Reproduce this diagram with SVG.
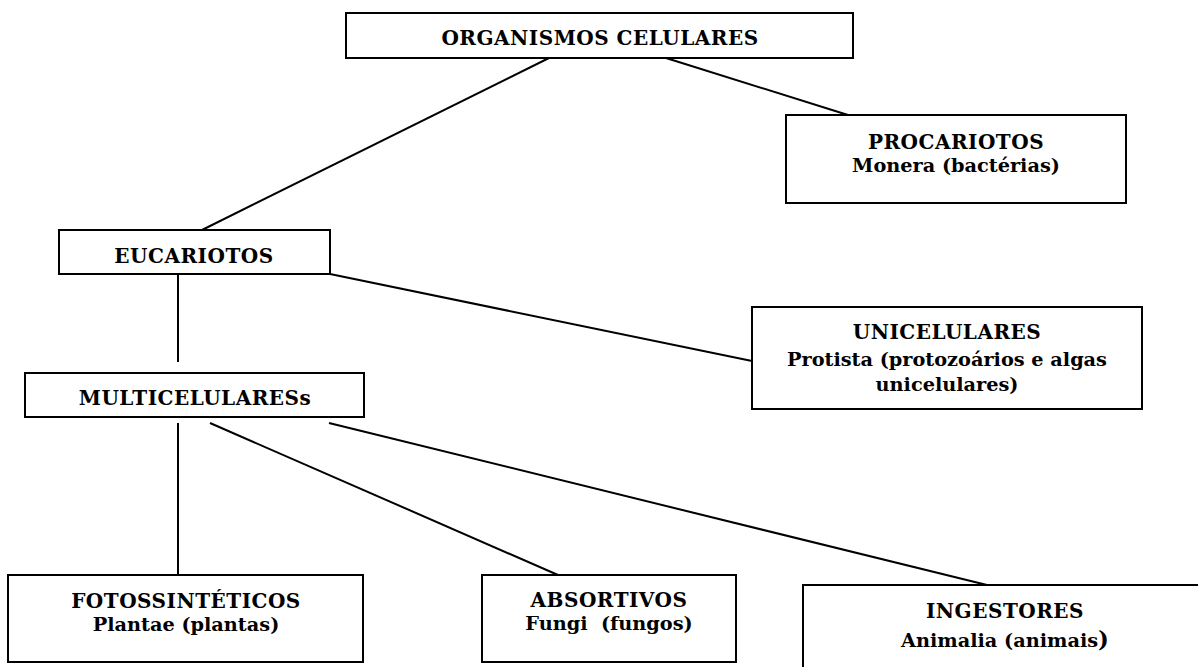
<svg xmlns="http://www.w3.org/2000/svg" width="1198" height="667" viewBox="0 0 1198 667">
<style>
.box{fill:#fff;stroke:#000;stroke-width:2}
.ln{stroke:#000;stroke-width:2;fill:none}
text{font-family:"DejaVu Serif","Liberation Serif",serif;font-weight:bold;font-size:19.3px;fill:#000;text-anchor:middle;white-space:pre}
text.h{font-size:20px;letter-spacing:0.5px}
</style>
<rect width="1198" height="667" fill="#fff"/>
<g id="connectors">
<line class="ln" x1="549" y1="58" x2="202" y2="230"/>
<line class="ln" x1="666" y1="58" x2="848" y2="115"/>
<line class="ln" x1="178" y1="274" x2="178" y2="362"/>
<line class="ln" x1="330" y1="274" x2="752" y2="361"/>
<line class="ln" x1="178" y1="423" x2="178" y2="575"/>
<line class="ln" x1="210" y1="423" x2="558" y2="575"/>
<line class="ln" x1="329" y1="423" x2="987" y2="585"/>
</g>
<g id="organismos">
<rect class="box" x="346" y="13" width="507" height="45"/>
<text class="h" x="600" y="45">ORGANISMOS CELULARES</text>
</g>
<g id="procariotos">
<rect class="box" x="786" y="115" width="340" height="88"/>
<text class="h" x="956" y="149">PROCARIOTOS</text>
<text x="956" y="172">Monera (bactérias)</text>
</g>
<g id="eucariotos">
<rect class="box" x="59" y="230" width="271" height="44"/>
<text class="h" x="194" y="263">EUCARIOTOS</text>
</g>
<g id="unicelulares">
<rect class="box" x="752" y="307" width="390" height="102"/>
<text class="h" x="947" y="339">UNICELULARES</text>
<text x="947" y="366">Protista (protozoários e algas</text>
<text x="947" y="391">unicelulares)</text>
</g>
<g id="multicelulares">
<rect class="box" x="25" y="373" width="339" height="44"/>
<text class="h" x="195" y="405">MULTICELULARESs</text>
</g>
<g id="fotossinteticos">
<rect class="box" x="8" y="575" width="355" height="87"/>
<text class="h" x="186" y="608">FOTOSSINTÉTICOS</text>
<text x="186" y="631">Plantae (plantas)</text>
</g>
<g id="absortivos">
<rect class="box" x="482" y="575" width="254" height="87"/>
<text class="h" x="609" y="607">ABSORTIVOS</text>
<text x="609" y="630">Fungi  (fungos)</text>
</g>
<g id="ingestores">
<rect class="box" x="803" y="585" width="420" height="100"/>
<text class="h" x="1005" y="618">INGESTORES</text>
<text x="1005" y="647">Animalia (animais<tspan font-size="23">)</tspan></text>
</g>
</svg>
